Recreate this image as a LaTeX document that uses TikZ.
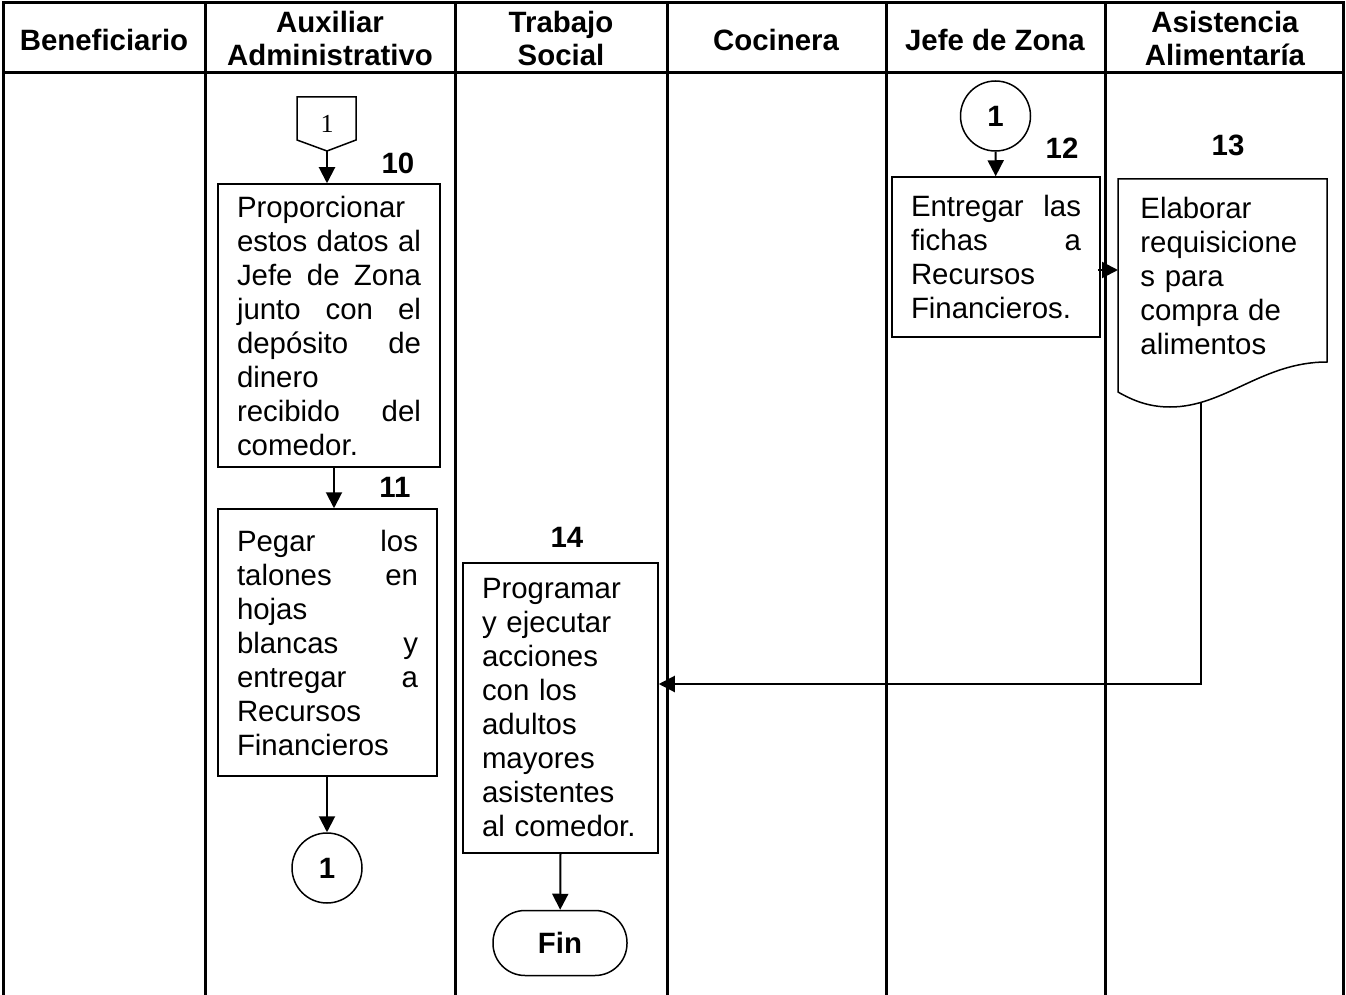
\documentclass[tikz,border=0pt]{standalone}
\usepackage{fontspec}
\setmainfont{Liberation Sans}
\newfontfamily\romanfont{Liberation Serif}
\usetikzlibrary{arrows.meta}

\begin{document}
\begin{tikzpicture}[x=0.5pt,y=-0.5pt]
    \tikzstyle{lane} = [line width=1.5pt]
    \tikzstyle{titulo} = 
    	[font=\bfseries\fontsize{14.7}{16.5}\selectfont,
    	align=center]
    \tikzstyle{paso} = 
    	[draw,
    	line width=0.75pt,
    	inner xsep=9.5pt,
    	inner ysep=2pt,
    	font=\fontsize{14.7}{17}\selectfont]
    \tikzstyle{num} = [font=\bfseries\fontsize{14.7}{17}\selectfont]
    \tikzstyle{flecha} = 
    	[line width=1pt,
    	-{Triangle[length=8pt,width=8pt]}]
    \tikzstyle{conector} = 
    	[draw,
    	circle,
    	line width=0.75pt,
    	minimum size=35pt,
    	inner sep=0pt,
    	font=\bfseries\fontsize{14.7}{17}\selectfont]

    \useasboundingbox (0,0) rectangle (1346,995);

    % carriles
    \draw[lane] (3,995) -- (3,3) -- (1343,3) -- (1343,995);
    \draw[lane] (3,73) -- (1343,73);
    \foreach \x in {205,455,667,886,1105}
    	\draw[lane] (\x,3) -- (\x,995);

    \node[titulo] (tBen) at (104,40) {Beneficiario};
    \node[titulo] (tAux) at (330,38) {Auxiliar\\Administrativo};
    \node[titulo] (tTra) at (561,38) {Trabajo\\Social};
    \node[titulo] (tCoc) at (776,40) {Cocinera};
    \node[titulo] (tJef) at (995,40) {Jefe de Zona};
    \node[titulo] (tAsi) at (1225,38) {Asistencia\\Alimentaría};

    % conector de pagina
    \draw[line width=0.75pt] (297,97) -- (356,97) -- (356,140) -- (327,151) -- (297,140) -- cycle;
    \node[font=\romanfont\fontsize{13}{15}\selectfont] (pagA) at (327,124) {1};
    \coordinate (pagAsal) at (327,151);

    \node[paso, text width=92pt, minimum height=141.5pt, align=justify] (p10) at (329,325.5)
    	{Proporcionar\newline estos datos al\linebreak Jefe de Zona\linebreak junto con el\linebreak
    	 depósito de\linebreak dinero\newline recibido del\linebreak comedor.};
    \node[paso, text width=90.5pt, minimum height=133.5pt, align=justify] (p11) at (327.5,642.5)
    	{Pegar los\linebreak talones en\linebreak hojas\newline blancas y\linebreak
    	 entregar a\linebreak Recursos\newline Financieros};
    \coordinate (e10) at (334,467);
    \node[conector] (c1a) at (327,868) {1};

    \node[paso, text width=78.5pt, minimum height=145pt, align=left] (p14) at (560.5,708)
    	{Programar\\y ejecutar\\acciones\\con los\\adultos\\mayores\\asistentes\\al comedor.};
    \node[draw, line width=0.75pt, rounded corners=16pt, minimum width=67pt, minimum height=32.5pt,
    	font=\bfseries\fontsize{14.7}{17}\selectfont] (fin) at (560,943) {Fin};

    \node[conector] (c1b) at (995.5,116) {1};
    \node[paso, text width=85pt, minimum height=80pt, align=justify] (p12) at (996,257)
    	{Entregar las\linebreak fichas a\linebreak Recursos\newline Financieros.};

    % documento
    \draw[line width=0.75pt] (1118,179) -- (1327,179) -- (1327,362)
    	.. controls (1262,362) and (1225,407) .. (1170,407)
    	.. controls (1148,407) and (1132,400) .. (1118,392) -- cycle;
    \node[anchor=west, inner sep=0pt, text width=84pt, align=left,
    	font=\fontsize{14.7}{17}\selectfont] (p13) at (1140,276)
    	{Elaborar\\requisicione\\s para\\compra de\\alimentos};
    \coordinate (docw) at (1118,270);
    \coordinate (docs) at (1201,402);
    \coordinate (giro) at (1201,684);

    \node[num] (n10) at (398,163) {10};
    \node[num] (n11) at (395,487) {11};
    \node[num] (n12) at (1062,148) {12};
    \node[num] (n13) at (1228,145) {13};
    \node[num] (n14) at (567,537) {14};

    \draw[flecha] (pagAsal) -- (pagAsal |- p10.north);
    \draw[flecha] (p10.south -| e10) -- (p11.north -| e10);
    \draw[flecha] (p11.south -| c1a) -- (c1a);
    \draw[flecha] (p14.south) -- (fin);
    \draw[flecha] (c1b) -- (p12);
    \draw[flecha] ([xshift=-1.5pt]p12.east |- docw) -- (docw);
    \draw[flecha] (docs) -- (giro) -- (giro -| p14.east);
\end{tikzpicture}
\end{document}
